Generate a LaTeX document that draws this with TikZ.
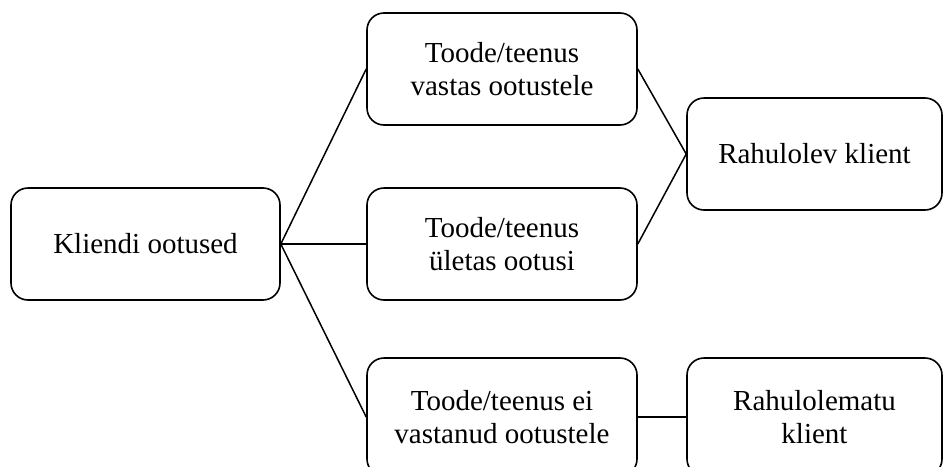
\documentclass[tikz,border=0pt]{standalone}
\usepackage{fontspec}
\setmainfont{Liberation Serif}
\begin{document}
\begin{tikzpicture}[x=1pt,y=-1pt,
  box/.style={draw=black, line width=1.6pt, rounded corners=17pt,
    minimum height=112pt, align=center, inner sep=0pt,
    font=\fontsize{29}{33.5}\selectfont},
  link/.style={draw=black, line width=1.5pt}]
  \clip (0,0) rectangle (944,466);
  \fill[white] (0,0) rectangle (944,466);

  \node[box, minimum width=269pt] (expect) at (145.5,244) {Kliendi ootused};
  \node[box, minimum width=270pt] (met) at (502,69) {Toode/teenus\\vastas ootustele};
  \node[box, minimum width=270pt] (exceeded) at (502,244) {Toode/teenus\\ületas ootusi};
  \node[box, minimum width=270pt, minimum height=118pt] (notmet) at (502,417) {Toode/teenus ei\\vastanud ootustele};
  \node[box, minimum width=255pt] (happy) at (814.5,154) {Rahulolev klient};
  \node[box, minimum width=255pt, minimum height=118pt] (unhappy) at (814.5,417) {Rahulolematu\\klient};

  \draw[link] (expect.east) -- (met.west);
  \draw[link] (expect.east) -- (exceeded.west);
  \draw[link] (expect.east) -- (notmet.west);
  \draw[link] (met.east) -- (happy.west);
  \draw[link] (exceeded.east) -- (happy.west);
  \draw[link] (notmet.east) -- (unhappy.west);
\end{tikzpicture}
\end{document}
